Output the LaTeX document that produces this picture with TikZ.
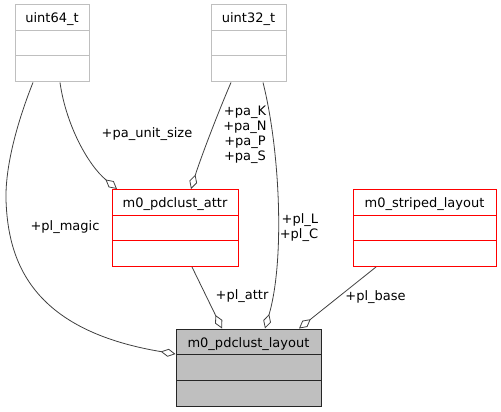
\documentclass[tikz,border=0pt]{standalone}
\usepackage{fontspec}
\setmainfont{DejaVu Sans}
\usepackage{tikz}
\usetikzlibrary{arrows.meta}
\pgfdeclarelayer{bg}
\pgfsetlayers{bg,main}
\definecolor{edgegray}{HTML}{404040}
\definecolor{boxgray}{HTML}{BFBFBF}
\definecolor{boxred}{HTML}{FF0000}
\tikzset{
  cls/.style n args={2}{rectangle, draw=#2, line width=1pt, inner xsep=0pt,
    inner ysep=0pt, text height=18pt, text depth=59pt, minimum width=#1,
    path picture={\draw[#2, line width=1pt]
      ([yshift=-25.5pt]path picture bounding box.north west) --
      ([yshift=-25.5pt]path picture bounding box.north east)
      ([yshift=-51pt]path picture bounding box.north west) --
      ([yshift=-51pt]path picture bounding box.north east);}},
  extcls/.style={cls={#1}{boxgray}},
  refcls/.style={cls={#1}{boxred}},
  maincls/.style={cls={#1}{black!85}, fill=boxgray},
  dep/.style={draw=edgegray, line width=0.8pt,
    -{Diamond[open, length=15pt, width=8pt]}},
  lbl/.style={inner sep=0pt, align=center}
}

\begin{document}
\begin{tikzpicture}[font=\fontsize{13}{15}\selectfont]
        \useasboundingbox (0pt, 0pt) rectangle (501pt, -412pt);
        \node (v0) [extcls=74pt] at (52.000000pt, -43.500000pt) {uint64\_t};
        \node (v1) [extcls=75pt] at (248.500000pt, -43.500000pt) {uint32\_t};
        \node (v2) [refcls=143pt] at (424.500000pt, -228.000000pt)
{m0\_striped\_layout};
        \node (v3) [refcls=126pt] at (175.000000pt, -228.000000pt)
{m0\_pdclust\_attr};
        \node (v4) [maincls=145pt] at (248.500000pt, -367.500000pt)
{m0\_pdclust\_layout};
        \node (e0) [lbl] at (65.000000pt, -227.000000pt) {+pl\_magic};
        \node (e1) [lbl] at (147.000000pt, -134.000000pt) {+pa\_unit\_size};
        \node (e2) [lbl] at (245.000000pt, -135.000000pt)
{+pa\_K\\+pa\_N\\+pa\_P\\+pa\_S};
        \node (e3) [lbl, align=right] at (299.000000pt, -227.500000pt)
{+pl\_L\\+pl\_C};
        \node (e4) [lbl] at (242.000000pt, -296.000000pt) {+pl\_attr};
        \node (e5) [lbl] at (375.500000pt, -297.000000pt) {+pl\_base};
        \begin{pgfonlayer}{bg}
                \draw [dep] ([xshift=-19pt]v0.south) .. controls (22pt, -110pt)
and (5pt, -160pt) .. (6pt, -200pt) .. controls (8pt, -260pt) and (30pt, -330pt)
.. ([yshift=13.5pt]v4.west);
                \draw [dep] ([xshift=8pt]v0.south) .. controls (66pt, -125pt)
and (88pt, -165pt) .. ([xshift=-58pt]v3.north);
                \draw [dep] ([xshift=-17.5pt]v1.south) .. controls (217pt, -115pt)
and (200pt, -160pt) .. ([xshift=16pt]v3.north);
                \draw [dep] ([xshift=14.5pt]v1.south) .. controls (280pt, -150pt)
and (285pt, -260pt) .. ([xshift=16.5pt]v4.north);
                \draw ([xshift=17pt]v3.south) edge [dep] ([xshift=-26.5pt]v4.north);
                \draw ([xshift=-48.5pt]v2.south) edge [dep] ([xshift=50.5pt]v4.north);
        \end{pgfonlayer}
\end{tikzpicture}
\end{document}
